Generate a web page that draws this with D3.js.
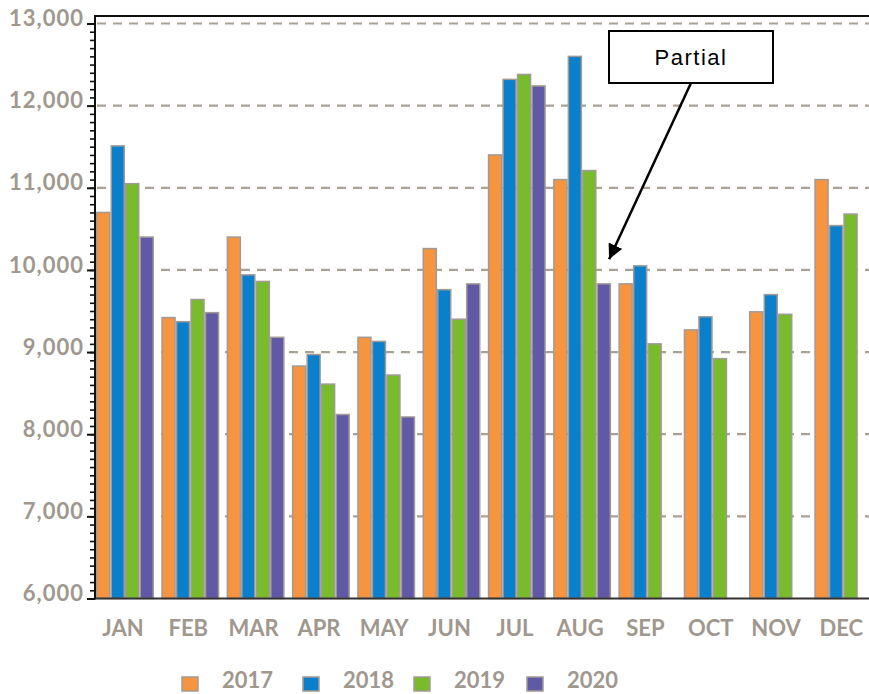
<!DOCTYPE html>
<html>
<head>
<meta charset="utf-8">
<script src="https://cdn.jsdelivr.net/npm/d3@7"></script>
<style>
  body { margin: 0; background: #fff; }
  svg { display: block; }
</style>
</head>
<body>
<div id="canvas"></div>
<script>
// data
const months = ["JAN", "FEB", "MAR", "APR", "MAY", "JUN", "JUL", "AUG", "SEP", "OCT", "NOV", "DEC"];
const years = ["2017", "2018", "2019", "2020"];
const v2017 = [10700, 9420, 10400, 8830, 9180, 10260, 11400, 11100, 9830, 9270, 9490, 11100];
const v2018 = [11510, 9370, 9940, 8970, 9130, 9760, 12320, 12600, 10050, 9430, 9700, 10540];
const v2019 = [11050, 9640, 9860, 8610, 8720, 9400, 12380, 11210, 9100, 8920, 9460, 10680];
const v2020 = [10400, 9480, 9180, 8240, 8210, 9830, 12240, 9830, null, null, null, null];
const yTicks = [6000, 7000, 8000, 9000, 10000, 11000, 12000, 13000];
const colors = ["#f6943f", "#0a80cd", "#78bb2b", "#6159a5"];

const series = [v2017, v2018, v2019, v2020];
const data = months.map((m, i) => ({
  month: m,
  values: years.map((yr, j) => ({ year: yr, value: series[j][i] }))
}));

const width = 869;
const height = 694;
const textColor = "#a0978e";
const font = "Lato, 'Open Sans', sans-serif";

const svg = d3.select("#canvas").append("svg")
  .attr("width", width)
  .attr("height", height);

const x = d3.scaleBand()
  .domain(months)
  .range([96, 872.3])
  .paddingInner(0.112)
  .paddingOuter(0)
  .align(0);

const x1 = d3.scaleBand()
  .domain(years)
  .range([0, x.bandwidth()])
  .padding(0);

const y = d3.scaleLinear().domain([6000, 13000]).range([598.5, 23.5]);

// dashed grid
svg.append("g")
  .selectAll("line")
  .data(yTicks.slice(1))
  .enter()
  .append("line")
  .attr("x1", 97)
  .attr("x2", width)
  .attr("y1", (d) => y(d))
  .attr("y2", (d) => y(d))
  .attr("stroke", "#a9a096")
  .attr("stroke-width", 2.2)
  .attr("stroke-dasharray", "9,7");

// bars
const groups = svg.append("g")
  .selectAll("g")
  .data(data)
  .enter()
  .append("g")
  .attr("transform", (d) => `translate(${x(d.month)},0)`);

groups.selectAll("rect")
  .data((d) => d.values.filter((v) => v.value != null))
  .enter()
  .append("rect")
  .attr("x", (d) => x1(d.year) + 0.75)
  .attr("y", (d) => y(d.value))
  .attr("width", x1.bandwidth() - 1.5)
  .attr("height", (d) => y(6000) - y(d.value))
  .attr("fill", (d) => colors[years.indexOf(d.year)])
  .attr("stroke", "#a29b95")
  .attr("stroke-width", 1.5);

// top border and baseline
svg.append("line")
  .attr("x1", 95).attr("x2", width)
  .attr("y1", 16).attr("y2", 16)
  .attr("stroke", "#111").attr("stroke-width", 2);

svg.append("line")
  .attr("x1", 95).attr("x2", width)
  .attr("y1", y(6000)).attr("y2", y(6000))
  .attr("stroke", "#333").attr("stroke-width", 2);

// y axis, minor ticks every 100
svg.append("g")
  .attr("transform", "translate(95,0)")
  .call(d3.axisLeft(y).tickValues(d3.range(6000, 13001, 100)).tickSize(5).tickFormat(""))
  .call((g) => g.select(".domain").remove())
  .call((g) => g.selectAll("line").attr("stroke", "#111").attr("stroke-width", 1.6));

const yAxis = svg.append("g")
  .attr("transform", "translate(95,0)")
  .call(d3.axisLeft(y).tickValues(yTicks).tickSize(8).tickPadding(5).tickFormat(d3.format(",")));

yAxis.select(".domain").remove();
yAxis.selectAll("line").attr("stroke", "#111").attr("stroke-width", 2);
yAxis.selectAll("text")
  .attr("dy", "0.1em")
  .attr("x", -11)
  .style("font-family", font)
  .style("font-weight", "bold")
  .style("font-size", "22px")
  .style("letter-spacing", "1px")
  .attr("fill", textColor);

svg.append("line")
  .attr("x1", 95).attr("x2", 95)
  .attr("y1", 15).attr("y2", y(6000) + 1)
  .attr("stroke", "#111").attr("stroke-width", 2);

// x labels
const xAxis = svg.append("g")
  .attr("transform", `translate(0,${y(6000)})`)
  .call(d3.axisBottom(x).tickSize(0).tickPadding(0));

xAxis.select(".domain").remove();
xAxis.selectAll("text")
  .attr("dy", 0)
  .attr("y", 37)
  .attr("x", -2)
  .style("font-family", font)
  .style("font-weight", "bold")
  .style("font-size", "22px")
  .attr("fill", textColor);

// legend
const legendX = [182, 303, 414, 527];
const legend = svg.append("g");
years.forEach((yr, i) => {
  legend.append("rect")
    .attr("x", legendX[i])
    .attr("y", 677)
    .attr("width", 16)
    .attr("height", 14)
    .attr("fill", colors[i])
    .attr("stroke", "#a29b95")
    .attr("stroke-width", 1.5);
  legend.append("text")
    .attr("x", legendX[i] + 40)
    .attr("y", 688)
    .style("font-family", font)
    .style("font-weight", "bold")
    .style("font-size", "22px")
    .attr("fill", textColor)
    .text(yr);
});

// annotation
const tipX = x("AUG") + x.bandwidth() - 2;
const tipY = y(10130);
const boxX = 609, boxY = 31, boxW = 164, boxH = 52;

svg.append("defs").append("marker")
  .attr("id", "arrow")
  .attr("viewBox", "0 0 10 10")
  .attr("refX", 10)
  .attr("refY", 5)
  .attr("markerWidth", 6)
  .attr("markerHeight", 6)
  .attr("markerUnits", "strokeWidth")
  .attr("orient", "auto")
  .append("path")
  .attr("d", "M0,0 L10,5 L0,10 z")
  .attr("fill", "#000");

svg.append("line")
  .attr("x1", 691)
  .attr("y1", boxY + boxH)
  .attr("x2", tipX)
  .attr("y2", tipY)
  .attr("stroke", "#000")
  .attr("stroke-width", 2.5)
  .attr("marker-end", "url(#arrow)");

svg.append("rect")
  .attr("x", boxX)
  .attr("y", boxY)
  .attr("width", boxW)
  .attr("height", boxH)
  .attr("fill", "#fff")
  .attr("stroke", "#000")
  .attr("stroke-width", 2);

svg.append("text")
  .attr("x", boxX + boxW / 2)
  .attr("y", 65)
  .attr("text-anchor", "middle")
  .style("font-family", "'Liberation Sans', Arial, sans-serif")
  .style("font-size", "22px")
  .style("letter-spacing", "1.5px")
  .attr("fill", "#000")
  .text("Partial");
</script>
</body>
</html>
